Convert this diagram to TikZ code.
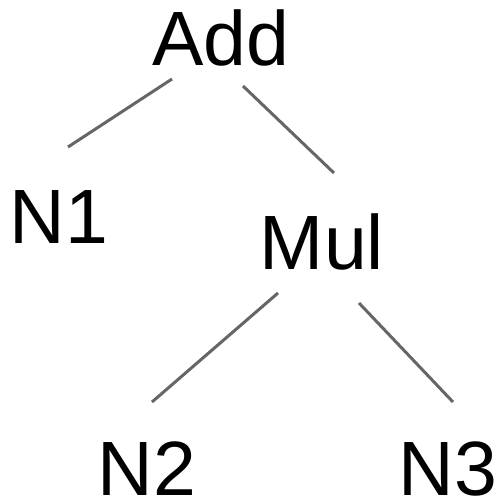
\documentclass[tikz,border=0pt]{standalone}
\usepackage{fontspec}
\setmainfont{Liberation Sans}
\usetikzlibrary{calc}
\begin{document}
\begin{tikzpicture}[x=1pt,y=-1pt,
  lbl/.style={inner sep=0pt,anchor=base,text depth=0pt,font=\fontsize{77}{92}\selectfont},
  edge/.style={draw=black!60,line width=3pt}]
\useasboundingbox[fill=white] (0,0) rectangle (498,501);
\node[lbl] (Add) at (221,65) {Add};
\node[lbl] (N1) at (59,243) {N1};
\node[lbl] (Mul) at (322,269) {Mul};
\node[lbl] (N2) at (147,495) {N2};
\node[lbl] (N3) at (448,495) {N3};
\draw[edge] ($(Add.base)+(-49,14)$) -- ($(N1.base)+(9,-96)$);
\draw[edge] ($(Add.base)+(22,21)$) -- ($(Mul.base)+(12,-96)$);
\draw[edge] ($(Mul.base)+(-44,24)$) -- ($(N2.base)+(5,-93)$);
\draw[edge] ($(Mul.base)+(37,34)$) -- ($(N3.base)+(5,-93)$);
\end{tikzpicture}
\end{document}
